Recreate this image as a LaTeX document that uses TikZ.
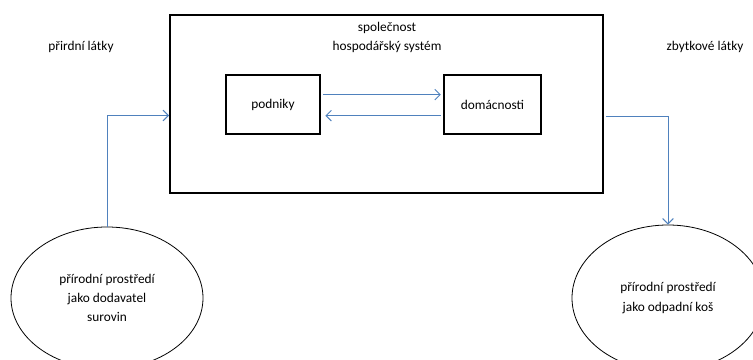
\documentclass[tikz,border=0pt]{standalone}
\usepackage{fontspec}
\setmainfont{Carlito}
\usetikzlibrary{shapes.geometric,arrows.meta}
\definecolor{modra}{RGB}{79,129,189}
\tikzset{
  ramecek/.style={draw, line width=1.5pt, rectangle},
  krajina/.style={draw, ellipse, line width=0.6pt},
  tok/.style={draw=modra, line width=0.75pt, -{Straight Barb[length=4pt,width=8pt]}},
  popis/.style={font=\fontsize{10}{14.3}\selectfont, align=center}
}

\begin{document}
\begin{tikzpicture}[x=0.75pt, y=-0.75pt, popis]
  \useasboundingbox (0,0) rectangle (753,360);
  %spolecnost
  \node[ramecek, minimum width=324.75pt, minimum height=133.5pt] (spol) at (386.5,104) {};
  \node (nazev) at (387,37.5) {společnost\\hospodářský systém};
  \node[ramecek, minimum width=71pt, minimum height=44.25pt] (podniky) at (273,104.5) {podniky};
  \node[ramecek, minimum width=73pt, minimum height=44.25pt] (domacnosti) at (492.5,104.5) {domácnosti};
  %toky mezi podniky a domacnostmi
  \draw[tok] ([yshift=7.4pt,xshift=1.5pt]podniky.east) -- ([yshift=7.4pt,xshift=-1.5pt]domacnosti.west);
  \draw[tok] ([yshift=-8.4pt,xshift=-1.5pt]domacnosti.west) -- ([yshift=-8.4pt,xshift=3pt]podniky.east);
  %prirodni prostredi
  \node[krajina, minimum width=144pt, minimum height=106.5pt] (zdroj) at (107,298) {přírodní prostředí\\jako dodavatel\\surovin};
  \node[krajina, minimum width=144pt, minimum height=109.5pt] (kos) at (668,298) {přírodní prostředí\\jako odpadní koš};
  \node (latky) at (81,47) {přirdní látky};
  \node (zbytky) at (705,47) {zbytkové látky};
  %vstup a vystup
  \draw[tok] (zdroj.north) |- (spol.west |- 0,115.5);
  \draw[tok] ([xshift=1.5pt]spol.east |- 0,116) -| (kos.north);
\end{tikzpicture}
\end{document}
